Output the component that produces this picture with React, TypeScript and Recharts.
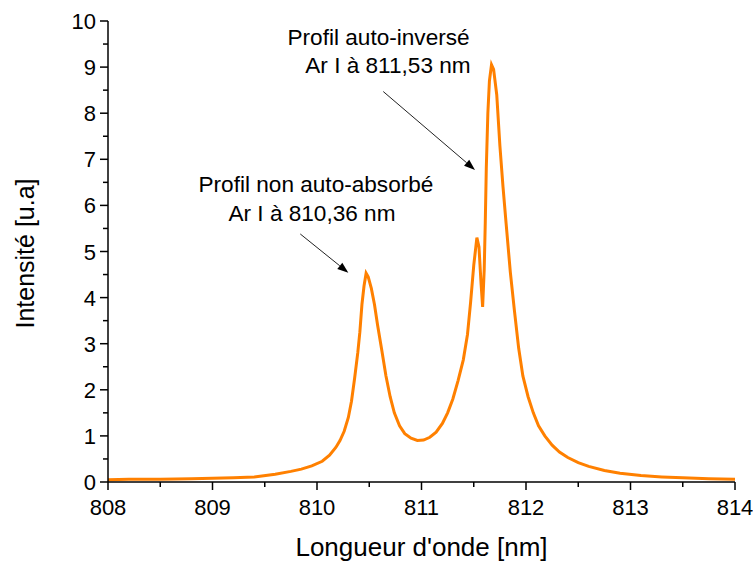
import React from 'react';
import { LineChart, Line, XAxis, YAxis, ReferenceLine, ReferenceDot } from 'recharts';

const wavelengths = [
  808.0, 808.2, 808.5, 808.8, 809.0, 809.2, 809.4, 809.6, 809.75, 809.85, 809.95, 810.05, 810.12,
  810.18, 810.22, 810.26, 810.3, 810.33, 810.36, 810.39, 810.41, 810.43, 810.45, 810.47, 810.49,
  810.52, 810.55, 810.58, 810.62, 810.66, 810.7, 810.74, 810.79, 810.84, 810.9, 810.96, 811.02,
  811.08, 811.14, 811.2, 811.25, 811.3, 811.35, 811.4, 811.44, 811.47, 811.5, 811.53, 811.55,
  811.57, 811.585, 811.6, 811.61, 811.62, 811.635, 811.65, 811.67, 811.69, 811.72, 811.75, 811.78,
  811.81, 811.85, 811.89, 811.93, 811.97, 812.02, 812.07, 812.12, 812.18, 812.25, 812.32, 812.4,
  812.5, 812.6, 812.75, 812.9, 813.1, 813.3, 813.5, 813.75, 814.0,
];
const intensities = [
  0.05, 0.06, 0.06, 0.07, 0.08, 0.09, 0.11, 0.17, 0.23, 0.28, 0.35, 0.45, 0.58,
  0.75, 0.9, 1.1, 1.4, 1.75, 2.25, 2.8, 3.25, 3.85, 4.25, 4.53, 4.45,
  4.2, 3.85, 3.4, 2.86, 2.3, 1.85, 1.5, 1.22, 1.05, 0.95, 0.9, 0.91,
  0.97, 1.08, 1.27, 1.5, 1.8, 2.2, 2.65, 3.2, 3.9, 4.7, 5.3, 5.1,
  4.3, 3.8, 4.6, 5.6, 6.8, 8.0, 8.7, 9.05, 8.95, 8.4, 7.3, 6.4,
  5.6, 4.55, 3.7, 2.9, 2.3, 1.85, 1.5, 1.22, 1.0, 0.8, 0.65, 0.53,
  0.42, 0.34, 0.25, 0.19, 0.14, 0.11, 0.09, 0.07, 0.06,
];

const xTicks = [808, 808.5, 809, 809.5, 810, 810.5, 811, 811.5, 812, 812.5, 813, 813.5, 814];
const yTicks = [0, 0.5, 1, 1.5, 2, 2.5, 3, 3.5, 4, 4.5, 5, 5.5, 6, 6.5, 7, 7.5, 8, 8.5, 9, 9.5, 10];

const annotationTexts = ['Profil non auto-absorbé', 'Ar I à 810,36 nm', 'Profil auto-inversé', 'Ar I à 811,53 nm'];
const annotationX = [809.99, 809.952, 810.589, 810.679];
const annotationY = [6.29, 5.66, 9.48, 8.88];
const arrow1 = [{ x: 809.84, y: 5.38 }, { x: 810.3, y: 4.54 }];
const arrow2 = [{ x: 810.634, y: 8.47 }, { x: 811.512, y: 6.77 }];

const data = wavelengths.map((x, i) => ({ x, y: intensities[i] }));

const FONT = '"Liberation Sans", Arial, Helvetica, sans-serif';

const XTick = (props: any) => {
  const { x, y, payload } = props;
  const v = payload.value;
  const major = Number.isInteger(v);
  return (
    <g>
      <line x1={x} y1={y} x2={x} y2={y + (major ? 8 : 5)} stroke="#000" strokeWidth={1.5} />
      {major && (
        <text x={x} y={y + 33} textAnchor="middle" fontSize={22} fontFamily={FONT} fill="#000">
          {v}
        </text>
      )}
    </g>
  );
};

const YTick = (props: any) => {
  const { x, y, payload } = props;
  const v = payload.value;
  const major = Number.isInteger(v);
  return (
    <g>
      <line x1={x - (major ? 8 : 5)} y1={y} x2={x} y2={y} stroke="#000" strokeWidth={1.5} />
      {major && (
        <text x={x - 12} y={y + 8} textAnchor="end" fontSize={22} fontFamily={FONT} fill="#000">
          {v}
        </text>
      )}
    </g>
  );
};

const Arrow = (props: any) => {
  const { x1, y1, x2, y2 } = props;
  const dx = x2 - x1;
  const dy = y2 - y1;
  const len = Math.sqrt(dx * dx + dy * dy) || 1;
  const ux = dx / len;
  const uy = dy / len;
  const hl = 11;
  const hw = 4;
  const bx = x2 - ux * hl;
  const by = y2 - uy * hl;
  const pts = `${x2},${y2} ${bx - uy * hw},${by + ux * hw} ${bx + uy * hw},${by - ux * hw}`;
  return (
    <g>
      <line x1={x1} y1={y1} x2={bx} y2={by} stroke="#222" strokeWidth={1} />
      <polygon points={pts} fill="#000" />
    </g>
  );
};

const makeText = (label: string) => (props: any) => {
  const { cx, cy } = props;
  return (
    <text x={cx} y={cy} textAnchor="middle" fontSize={22.6} fontFamily={FONT} fill="#000">
      {label}
    </text>
  );
};

const XTitle = (props: any) => {
  const { viewBox } = props;
  const cx = viewBox.x + viewBox.width / 2;
  return (
    <text x={cx} y={viewBox.y + 74} textAnchor="middle" fontSize={26} fontFamily={FONT} fill="#000">
      Longueur d'onde [nm]
    </text>
  );
};

const YTitle = (props: any) => {
  const { viewBox } = props;
  const cy = viewBox.y + viewBox.height / 2 + 2;
  const x = 34;
  return (
    <text
      x={x}
      y={cy}
      transform={`rotate(-90, ${x}, ${cy})`}
      textAnchor="middle"
      fontSize={25}
      fontFamily={FONT}
      fill="#000"
    >
      Intensité [u.a]
    </text>
  );
};

export default function App() {
  return (
    <div style={{ position: 'absolute', left: 0, top: 0, width: 753, height: 563, background: '#fff' }}>
      <LineChart width={753} height={563} data={data} margin={{ top: 21, right: 18, bottom: 0, left: 0 }}>
        <XAxis
          dataKey="x"
          type="number"
          domain={[808, 814]}
          ticks={xTicks}
          interval={0}
          tickSize={0}
          tickMargin={0}
          tickLine={false}
          tick={<XTick />}
          height={81}
          axisLine={{ stroke: '#000', strokeWidth: 1.5 }}
          label={{ content: <XTitle /> }}
        />
        <YAxis
          type="number"
          domain={[0, 10]}
          ticks={yTicks}
          interval={0}
          tickSize={0}
          tickMargin={0}
          tickLine={false}
          tick={<YTick />}
          width={108}
          axisLine={{ stroke: '#000', strokeWidth: 1.5 }}
          label={{ content: <YTitle /> }}
        />
        <Line
          dataKey="y"
          type="linear"
          stroke="#ff8000"
          strokeWidth={3}
          dot={false}
          isAnimationActive={false}
        />
        <ReferenceLine segment={arrow1} shape={<Arrow />} />
        <ReferenceLine segment={arrow2} shape={<Arrow />} />
        {annotationTexts.map((t, i) => (
          <ReferenceDot key={i} x={annotationX[i]} y={annotationY[i]} r={0} shape={makeText(t)} />
        ))}
      </LineChart>
    </div>
  );
}
